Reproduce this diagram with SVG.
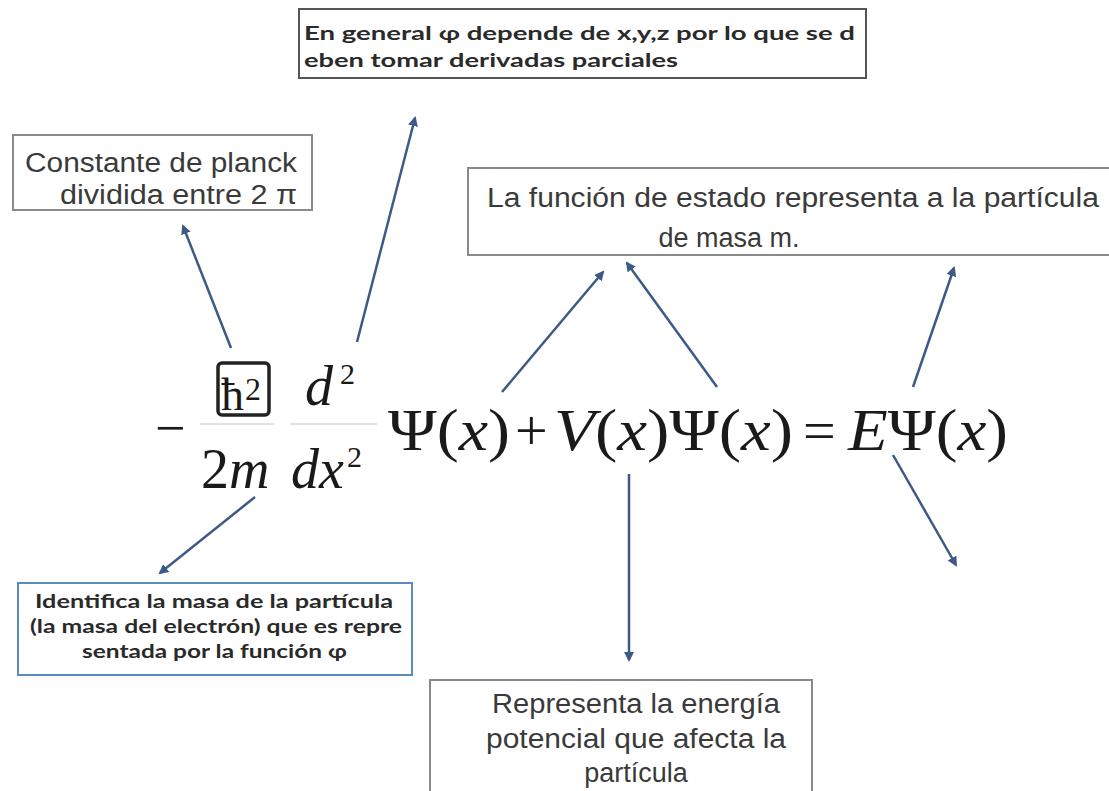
<svg xmlns="http://www.w3.org/2000/svg" width="1109" height="791" viewBox="0 0 1109 791">
<defs>
<style>
.box{fill:#fff;stroke:#8a8a8a;stroke-width:2}
.geo{font-family:Lato,"Liberation Sans",sans-serif;font-weight:bold;fill:#2a2a2a}
.ar{font-family:"Liberation Sans",Arial,sans-serif;fill:#3a3a3a}
.m{font-family:"Liberation Serif","Times New Roman",serif;fill:#1a1a1a}
.i{font-style:italic}
.conn{stroke:#3d5a86;stroke-width:2.5;fill:none;marker-end:url(#ah)}
</style>
<marker id="ah" viewBox="0 0 10 10" refX="8" refY="5" markerWidth="4" markerHeight="4" orient="auto" markerUnits="strokeWidth">
<path d="M0,0 L10,5 L0,10 z" fill="#3d5a86"/>
</marker>
</defs>
<rect width="1109" height="791" fill="#fff"/>

<g id="node-derivadas">
<rect x="299" y="9" width="567" height="69" fill="#fff" stroke="#555" stroke-width="2"/>
<text class="geo" x="304" y="40" font-size="19" textLength="551" lengthAdjust="spacingAndGlyphs">En general φ depende de x,y,z por lo que se d</text>
<text class="geo" x="304" y="67" font-size="19" textLength="374" lengthAdjust="spacingAndGlyphs">eben tomar derivadas parciales</text>
</g>

<g id="node-planck">
<rect class="box" x="13" y="135" width="299" height="75"/>
<text class="ar" x="25" y="172" font-size="27" textLength="272" lengthAdjust="spacingAndGlyphs">Constante de planck</text>
<text class="ar" x="60" y="204" font-size="27" textLength="237" lengthAdjust="spacingAndGlyphs">dividida entre 2 π</text>
</g>

<g id="node-funcion">
<rect class="box" x="468" y="168" width="650" height="87"/>
<text class="ar" x="487" y="207" font-size="27" textLength="612" lengthAdjust="spacingAndGlyphs">La función de estado representa a la partícula</text>
<text class="ar" x="729" y="247" font-size="27" text-anchor="middle">de masa m.</text>
</g>

<g id="node-masa">
<rect x="18" y="583" width="394" height="92" fill="#fff" stroke="#5b8bbb" stroke-width="2"/>
<text class="geo" x="35" y="608" font-size="18" textLength="358" lengthAdjust="spacingAndGlyphs">Identifica la masa de la partícula</text>
<text class="geo" x="30" y="633" font-size="18" textLength="372" lengthAdjust="spacingAndGlyphs">(la masa del electrón) que es repre</text>
<text class="geo" x="82" y="658" font-size="18" textLength="265" lengthAdjust="spacingAndGlyphs">sentada por la función φ</text>
</g>

<g id="node-energia">
<rect class="box" x="430" y="680" width="382" height="120"/>
<text class="ar" x="636" y="713" font-size="27" text-anchor="middle" textLength="288" lengthAdjust="spacingAndGlyphs">Representa la energía</text>
<text class="ar" x="636" y="748" font-size="27" text-anchor="middle" textLength="300" lengthAdjust="spacingAndGlyphs">potencial que afecta la</text>
<text class="ar" x="636" y="782" font-size="27" text-anchor="middle">partícula</text>
</g>

<g id="equation">
<line x1="200" y1="424" x2="274" y2="424" stroke="#e2e2e2" stroke-width="2"/>
<line x1="290" y1="424" x2="377" y2="424" stroke="#e2e2e2" stroke-width="2"/>
<text class="m" x="155" y="446" font-size="54">−</text>
<rect x="218" y="363" width="51" height="52" rx="4" fill="#fff" stroke="#222" stroke-width="3.5"/>
<text class="m" x="221" y="410" font-size="46">ħ</text>
<text class="m" x="245" y="400" font-size="32">2</text>
<text class="m i" x="305" y="405" font-size="56">d</text>
<text class="m" x="340" y="384" font-size="30">2</text>
<text class="m" x="201" y="488" font-size="56">2<tspan class="i">m</tspan></text>
<text class="m i" x="291" y="488" font-size="56">dx</text>
<text class="m" x="347" y="467" font-size="30">2</text>
<text class="m" x="388" y="450" font-size="60" textLength="122" lengthAdjust="spacingAndGlyphs">Ψ(<tspan class="i">x</tspan>)</text>
<text class="m" x="515" y="450" font-size="58">+</text>
<text class="m" x="554" y="450" font-size="60" textLength="239" lengthAdjust="spacingAndGlyphs"><tspan class="i">V</tspan>(<tspan class="i">x</tspan>)Ψ(<tspan class="i">x</tspan>)</text>
<text class="m" x="803" y="450" font-size="58">=</text>
<text class="m" x="848" y="450" font-size="60" textLength="160" lengthAdjust="spacingAndGlyphs"><tspan class="i">E</tspan>Ψ(<tspan class="i">x</tspan>)</text>
</g>

<g id="connectors">
<line class="conn" x1="231" y1="348" x2="183" y2="226"/>
<line class="conn" x1="357" y1="342" x2="415" y2="118"/>
<line class="conn" x1="502" y1="392" x2="603" y2="272"/>
<line class="conn" x1="717" y1="387" x2="627" y2="263"/>
<line class="conn" x1="913" y1="387" x2="954" y2="268"/>
<line class="conn" x1="893" y1="455" x2="956" y2="565"/>
<line class="conn" x1="255" y1="497" x2="160" y2="573"/>
<line class="conn" x1="629" y1="474" x2="629" y2="660"/>
</g>
</svg>
